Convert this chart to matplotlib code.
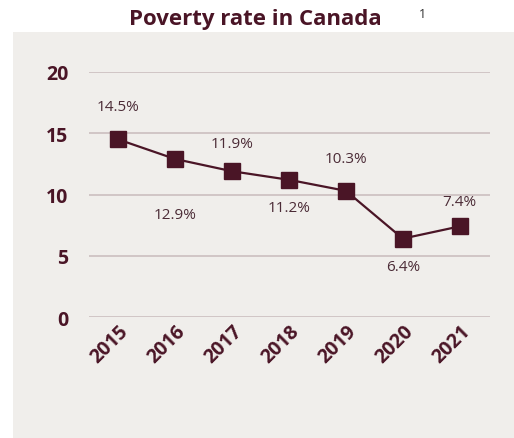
import matplotlib.pyplot as plt
from matplotlib.patches import Rectangle

years = ["2015", "2016", "2017", "2018", "2019", "2020", "2021"]
rates = [14.5, 12.9, 11.9, 11.2, 10.3, 6.4, 7.4]
# label offsets in points (above > 0, below < 0)
label_dy = [24, -40, 20, -20, 23, -20, 18]

maroon = "#4a1526"
text_col = "#4b2b36"
bg = "#f0eeeb"
grid_col = "#cbbfbf"

plt.rcParams['font.family'] = ['Open Sans', 'DejaVu Sans']

fig = plt.figure(figsize=(5.14, 4.39), dpi=100)
fig.patches.append(Rectangle((13 / 514, 0), 1, 1 - 33 / 439, transform=fig.transFigure,
                             facecolor=bg, edgecolor='none', zorder=-10))

ax = fig.add_axes([89 / 514, 1 - 318 / 439, (490 - 89) / 514, (318 - 73) / 439])
ax.set_facecolor('none')
ax.set_zorder(5)

x = list(range(len(years)))
ax.plot(x, rates, color=maroon, lw=1.6, marker='s', markersize=11.5, clip_on=False, zorder=3)

for xi, r, dy in zip(x, rates, label_dy):
    ax.annotate(f"{r}%", (xi, r), xytext=(0, dy), textcoords='offset points',
                ha='center', va='center', fontsize=11, color=text_col)

ax.set_ylim(0, 20)
ax.set_xlim(-0.51, 6.53)
ax.set_yticks([0, 5, 10, 15, 20])
ax.set_xticks(x)
ax.set_xticklabels(years, rotation=45, ha='right', rotation_mode='anchor')
ax.yaxis.grid(True, color=grid_col, lw=1.2)
ax.set_axisbelow(True)
for s in ax.spines.values():
    s.set_visible(False)
ax.tick_params(axis='both', length=0, labelcolor=maroon, labelsize=14)
ax.tick_params(axis='y', pad=15)
ax.tick_params(axis='x', pad=3)
for lab in ax.get_xticklabels() + ax.get_yticklabels():
    lab.set_fontweight('bold')

fig.text(255 / 514, 1 - 20 / 439, "Poverty rate in Canada", ha='center', va='center',
         fontsize=16, fontweight='bold', color=maroon)
fig.text(422 / 514, 1 - 14 / 439, "1", ha='center', va='center', fontsize=9, color='#333333')

fig.savefig("out.png", dpi=100)
